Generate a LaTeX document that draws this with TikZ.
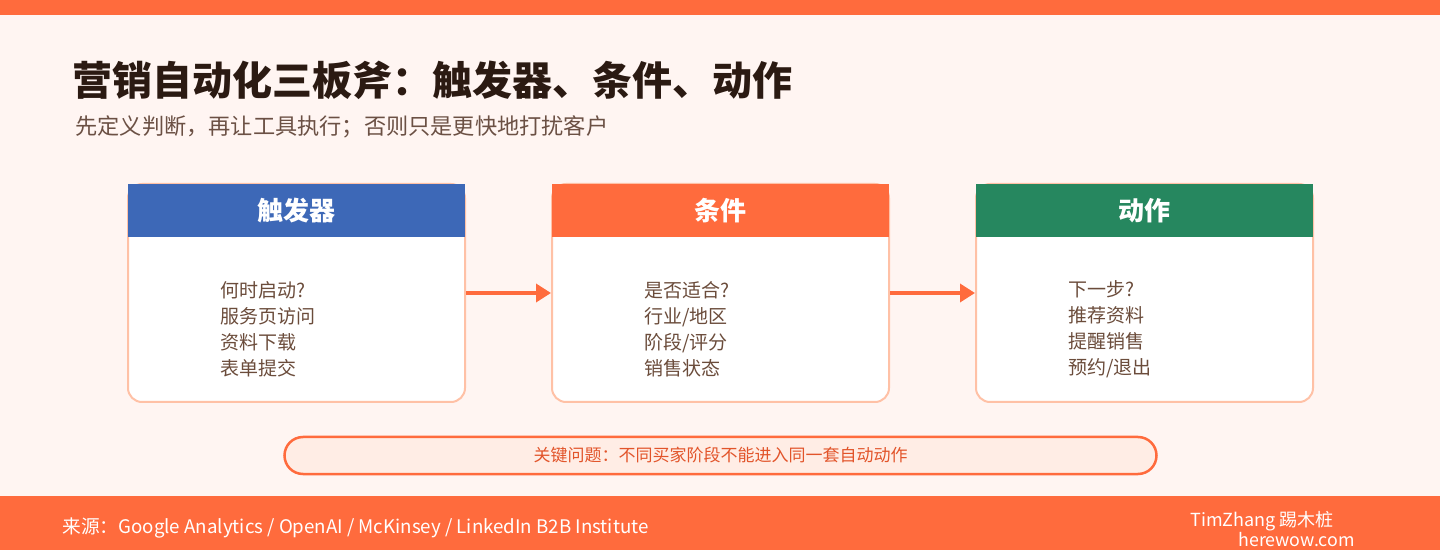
\documentclass[tikz,border=0pt]{standalone}
\usepackage{fontspec}
\setmainfont{Noto Sans CJK SC}
\usetikzlibrary{arrows.meta}

\definecolor{accent}{HTML}{FF6B3D}
\definecolor{paper}{HTML}{FFF5F2}
\definecolor{trigblue}{HTML}{3D68B7}
\definecolor{actgreen}{HTML}{26875F}
\definecolor{cardline}{HTML}{FFC1A6}
\definecolor{keyfill}{HTML}{FFEDE5}
\definecolor{keytext}{HTML}{E2542A}
\definecolor{titlecol}{HTML}{2B1A12}
\definecolor{subcol}{HTML}{6B5044}
\definecolor{bodycol}{HTML}{6B4C3B}

\tikzset{
  card/.style={draw=cardline, line width=1pt, fill=white, rounded corners=7pt,
    minimum width=168.5pt, minimum height=109pt, inner sep=0},
  head/.style={fill=#1, minimum width=168.5pt, minimum height=26.5pt, inner sep=0,
    text=white, font=\fontsize{13}{15}\selectfont\bfseries},
  body/.style={anchor=west, align=left, inner sep=0, text=bodycol,
    font=\fontsize{9.5}{13}\selectfont},
  flow/.style={draw=accent, line width=1.75pt, -{Triangle[length=7.5pt,width=9pt]}},
}

\begin{document}
\begin{tikzpicture}[x=0.5pt,y=-0.5pt]
\useasboundingbox (0,0) rectangle (1440,550);
% sfondo e barre
\fill[paper] (0,0) rectangle (1440,550);
\fill[accent] (0,0) rectangle (1440,15);
\fill[accent] (0,496) rectangle (1440,550);
% titolo
\node[anchor=base west, inner sep=0, text=titlecol, font=\fontsize{20}{24}\selectfont\bfseries] (title) at (72,96) {营销自动化三板斧：触发器、条件、动作};
\node[anchor=base west, inner sep=0, text=subcol, font=\fontsize{11.1}{14}\selectfont] (subtitle) at (75,135) {先定义判断，再让工具执行；否则只是更快地打扰客户};
% schede
\node[card] (trig) at (296.5,293) {};
\node[head=trigblue] (trighead) at (296.5,210.5) {触发器};
\node[body] (trigbody) at (220,329.5) {何时启动?\\服务页访问\\资料下载\\表单提交};
\node[card] (cond) at (720.5,293) {};
\node[head=accent] (condhead) at (720.5,210.5) {条件};
\node[body] (condbody) at (644,329.5) {是否适合?\\行业/地区\\阶段/评分\\销售状态};
\node[card] (act) at (1144.5,293) {};
\node[head=actgreen] (acthead) at (1144.5,210.5) {动作};
\node[body] (actbody) at (1068,329.5) {下一步?\\推荐资料\\提醒销售\\预约/退出};
% frecce
\draw[flow] (trig) -- (cond);
\draw[flow] (cond) -- (act);
% problema chiave
\node[draw=accent, fill=keyfill, line width=1.25pt, rounded corners=9.25pt, minimum width=436pt, minimum height=18.5pt, inner sep=0, text=keytext, font=\fontsize{8.5}{10}\selectfont] (key) at (720.5,455.5) {关键问题：不同买家阶段不能进入同一套自动动作};
% piede
\node[anchor=west, inner sep=0, text=white, font=\fontsize{9.35}{11}\selectfont] (source) at (62,528) {来源：Google Analytics / OpenAI / McKinsey / LinkedIn B2B Institute};
\node[anchor=west, inner sep=0, text=white, font=\fontsize{9}{10}\selectfont] (author) at (1190,521) {TimZhang 踢木桩};
\node[anchor=west, inner sep=0, text=white, font=\fontsize{8.9}{10}\selectfont] (site) at (1238,540) {herewow.com};
\end{tikzpicture}
\end{document}
